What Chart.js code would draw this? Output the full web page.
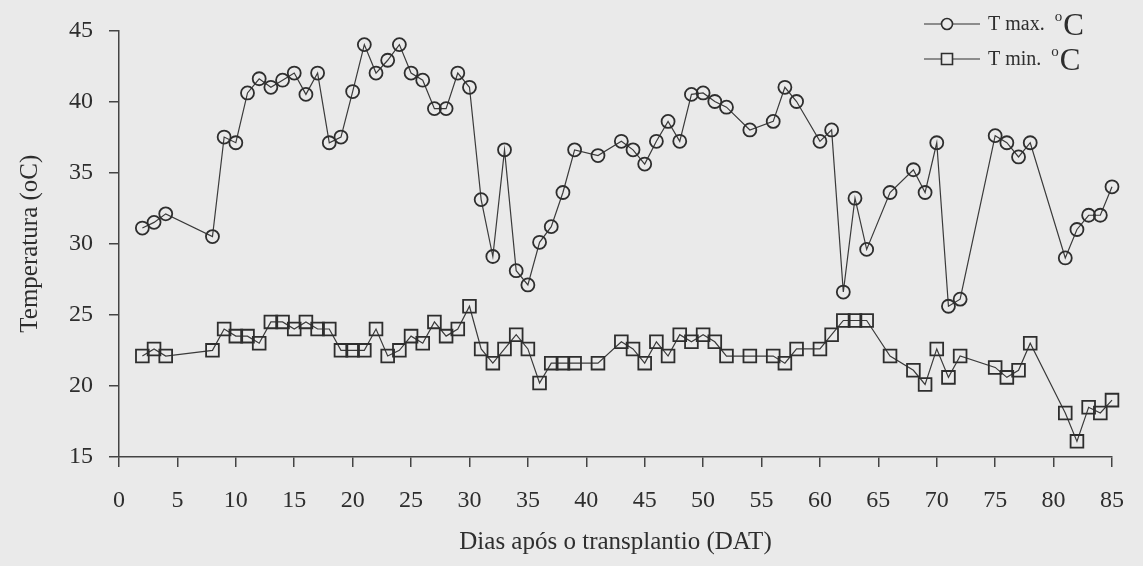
<!DOCTYPE html>
<html lang="pt">
<head>
<meta charset="utf-8">
<title>Temperatura máxima e mínima</title>
<script src="https://cdn.jsdelivr.net/npm/chart.js@4/dist/chart.umd.min.js"></script>
<style>
    html, body { margin: 0; padding: 0; background: #eaeaea; }
    #grafico-temperatura { display: block; }
</style>
</head>
<body>
<canvas id="grafico-temperatura" width="1143" height="566"></canvas>
<script>
// Dias após o transplantio (DAT)
const dias = [2, 3, 4, 8, 9, 10, 11, 12, 13, 14, 15, 16, 17, 18, 19, 20, 21, 22, 23, 24, 25, 26, 27, 28, 29, 30,
    31, 32, 33, 34, 35, 36, 37, 38, 39, 41, 43, 44, 45, 46, 47, 48, 49, 50, 51, 52, 54, 56, 57, 58,
    60, 61, 62, 63, 64, 66, 68, 69, 70, 71, 72, 75, 76, 77, 78, 81, 82, 83, 84, 85];

// T max. ºC
const tMax = [31.1, 31.5, 32.1, 30.5, 37.5, 37.1, 40.6, 41.6, 41.0, 41.5, 42.0, 40.5, 42.0, 37.1, 37.5, 40.7,
    44.0, 42.0, 42.9, 44.0, 42.0, 41.5, 39.5, 39.5, 42.0, 41.0, 33.1, 29.1, 36.6, 28.1, 27.1, 30.1,
    31.2, 33.6, 36.6, 36.2, 37.2, 36.6, 35.6, 37.2, 38.6, 37.2, 40.5, 40.6, 40.0, 39.6, 38.0, 38.6,
    41.0, 40.0, 37.2, 38.0, 26.6, 33.2, 29.6, 33.6, 35.2, 33.6, 37.1, 25.6, 26.1, 37.6, 37.1, 36.1,
    37.1, 29.0, 31.0, 32.0, 32.0, 34.0];

// T min. ºC
const tMin = [22.1, 22.6, 22.1, 22.5, 24.0, 23.5, 23.5, 23.0, 24.5, 24.5, 24.0, 24.5, 24.0, 24.0, 22.5, 22.5,
    22.5, 24.0, 22.1, 22.5, 23.5, 23.0, 24.5, 23.5, 24.0, 25.6, 22.6, 21.6, 22.6, 23.6, 22.6, 20.2,
    21.6, 21.6, 21.6, 21.6, 23.1, 22.6, 21.6, 23.1, 22.1, 23.6, 23.1, 23.6, 23.1, 22.1, 22.1, 22.1,
    21.6, 22.6, 22.6, 23.6, 24.6, 24.6, 24.6, 22.1, 21.1, 20.1, 22.6, 20.6, 22.1, 21.3, 20.6, 21.1,
    23.0, 18.1, 16.1, 18.5, 18.1, 19.0];

const rotulosSeries = ['T max.', 'T min.'];
const eixoX = { titulo: 'Dias após o transplantio (DAT)', min: 0, max: 85, passo: 5 };
const eixoY = { titulo: 'Temperatura (oC)', min: 15, max: 45, passo: 5 };

const corTinta = '#2e2e2e';
const fonte = '"Liberation Serif", "Times New Roman", serif';

// Legenda desenhada à mão: —O— T max. ºC
const legendaManual = {
    id: 'legendaManual',
    afterDraw(chart) {
        const ctx = chart.ctx;
        const linhas = [
            { texto: rotulosSeries[0], estilo: 'circle', y: 24 },
            { texto: rotulosSeries[1], estilo: 'rect', y: 59 }
        ];
        ctx.save();
        linhas.forEach(l => {
            ctx.strokeStyle = corTinta;
            ctx.lineWidth = 1.2;
            ctx.beginPath();
            ctx.moveTo(924, l.y);
            ctx.lineTo(980, l.y);
            ctx.stroke();
            ctx.fillStyle = '#eaeaea';
            ctx.lineWidth = 1.6;
            ctx.beginPath();
            if (l.estilo === 'circle') {
                ctx.arc(947, l.y, 5.5, 0, Math.PI * 2);
            } else {
                ctx.rect(941.5, l.y - 5.5, 11, 11);
            }
            ctx.fill();
            ctx.stroke();

            ctx.fillStyle = corTinta;
            ctx.textBaseline = 'alphabetic';
            ctx.font = '20px ' + fonte;
            ctx.fillText(l.texto, 988, l.y + 6);
            let x = 988 + ctx.measureText(l.texto).width + 10;
            ctx.font = '15px ' + fonte;
            ctx.fillText('o', x, l.y - 3);
            x += ctx.measureText('o').width + 1;
            ctx.font = '31px ' + fonte;
            ctx.fillText('C', x, l.y + 11);
        });
        ctx.restore();
    }
};

document.addEventListener('DOMContentLoaded', function () {
    const pontosMax = dias.map((d, i) => ({ x: d, y: tMax[i] }));
    const pontosMin = dias.map((d, i) => ({ x: d, y: tMin[i] }));

    new Chart(document.getElementById('grafico-temperatura'), {
        type: 'line',
        data: {
            datasets: [
                {
                    label: rotulosSeries[0], data: pontosMax,
                    borderColor: '#3a3a3a', borderWidth: 1.2,
                    pointStyle: 'circle', pointRadius: 6.5, pointBorderWidth: 1.8,
                    pointBorderColor: corTinta, pointBackgroundColor: 'rgba(0,0,0,0)',
                    tension: 0, clip: false
                },
                {
                    label: rotulosSeries[1], data: pontosMin,
                    borderColor: '#3a3a3a', borderWidth: 1.2,
                    pointStyle: 'rect', pointRadius: 9, pointBorderWidth: 1.8,
                    pointBorderColor: corTinta, pointBackgroundColor: 'rgba(0,0,0,0)',
                    tension: 0, clip: false
                }
            ]
        },
        options: {
            responsive: false,
            animation: false,
            events: [],
            layout: { padding: { left: 0, top: 24, right: 16, bottom: 0 } },
            plugins: { legend: { display: false }, tooltip: { enabled: false } },
            scales: {
                x: {
                    type: 'linear', min: eixoX.min, max: eixoX.max,
                    afterFit: s => { s.height = 109; },
                    border: { display: true, color: '#444', width: 1.5 },
                    grid: { drawOnChartArea: false, drawTicks: true, tickLength: 10, color: '#444', lineWidth: 1.5 },
                    ticks: { stepSize: eixoX.passo, padding: 19, color: corTinta, font: { family: fonte, size: 24 } },
                    title: { display: true, text: eixoX.titulo, color: corTinta, padding: { top: 0, bottom: 9 },
                        font: { family: fonte, size: 25 } }
                },
                y: {
                    type: 'linear', min: eixoY.min, max: eixoY.max,
                    afterFit: s => { s.width = 119; },
                    border: { display: true, color: '#444', width: 1.5 },
                    grid: { drawOnChartArea: false, drawTicks: true, tickLength: 10, color: '#444', lineWidth: 1.5 },
                    ticks: { stepSize: eixoY.passo, padding: 16, color: corTinta, font: { family: fonte, size: 24 } },
                    title: { display: true, text: eixoY.titulo, color: corTinta, padding: { top: 15, bottom: 0 },
                        font: { family: fonte, size: 25 } }
                }
            }
        },
        plugins: [legendaManual]
    });
});
</script>
</body>
</html>
